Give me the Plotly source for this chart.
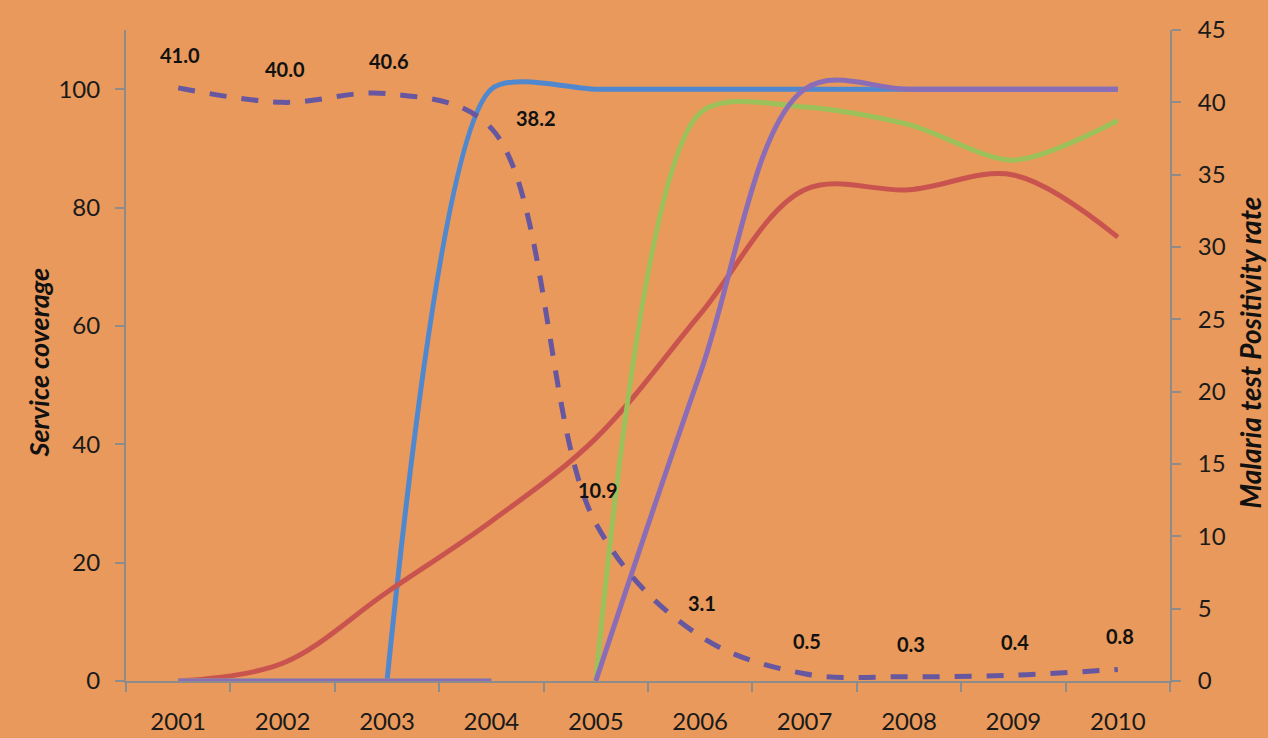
import plotly.graph_objects as go

# Years on the category axis
years = ["2001", "2002", "2003", "2004", "2005", "2006", "2007", "2008", "2009", "2010"]

# Service coverage series (left axis, %)
blue_cov = [None, None, 0, 100, 100, 100, 100, 100, 100, 100]
red_cov = [0, 3, 15, 27, 41, 62, 83, 83, 85.5, 75]
green_cov = [0, 0, 0, 0, 0, 96, 97, 94, 88, 94.7]
purple_cov = [0, 0, 0, 0, 0, 52, 100, 100, 100, 100]

# Malaria test positivity rate (right axis, %)
positivity = [41.0, 40.0, 40.6, 38.2, 10.9, 3.1, 0.5, 0.3, 0.4, 0.8]

BG = "#E8995B"
AXIS = "#8C8C8C"
FONT = "Lato"

fig = go.Figure()

def add_line(xs, ys, color, smoothing=1.0, axis="y", dash="solid"):
    fig.add_trace(go.Scatter(
        x=xs, y=ys, mode="lines", yaxis=axis,
        line=dict(color=color, width=5, shape="spline", smoothing=smoothing, dash=dash),
        showlegend=False, hoverinfo="skip"))

# Green and purple sit at zero until 2004, then climb from 2005 on
START = years.index("2005")
FLAT_END = years.index("2004") + 1

add_line(years, blue_cov, "#5088CF", smoothing=0.7)
add_line(years, red_cov, "#C9534E")
add_line(years[:FLAT_END], green_cov[:FLAT_END], "#9DC15A")
add_line(years[START:], green_cov[START:], "#9DC15A", smoothing=0.8)
add_line(years[:FLAT_END], purple_cov[:FLAT_END], "#8A6DB6")
add_line(years[START:], purple_cov[START:], "#8A6DB6")

add_line(years, positivity, "#6657A0", axis="y2", dash="17px,15px")

# Value labels above the positivity points (x given as category index)
annotations = []
for i, (yr, v) in enumerate(zip(years, positivity)):
    shift_x, shift_y = (45, 10) if yr == "2004" else (2, 33)
    annotations.append(dict(
        x=i, y=v, xref="x", yref="y2", text=f"<b>{v:.1f}</b>", showarrow=False,
        xshift=shift_x, yshift=shift_y,
        font=dict(family=FONT, size=20, color="#111111")))

# Axis titles
annotations.append(dict(
    x=0, y=0.5, xref="paper", yref="paper", text="<b><i>Service coverage</i></b>",
    textangle=-90, showarrow=False, xanchor="center", yanchor="middle", xshift=-88, yshift=-7,
    font=dict(family=FONT, size=27, color="#111111")))
annotations.append(dict(
    x=1, y=0.5, xref="paper", yref="paper", text="<b><i>Malaria test Positivity rate</i></b>",
    textangle=-90, showarrow=False, xanchor="center", yanchor="middle", xshift=79, yshift=3,
    font=dict(family=FONT, size=28, color="#111111")))

axis_style = dict(
    ticks="outside", ticklen=9, tickcolor=AXIS, tickwidth=2,
    showline=True, linecolor=AXIS, linewidth=2, showgrid=False, zeroline=False,
    tickfont=dict(size=24, family=FONT), automargin=False)

fig.update_layout(
    width=1268, height=738,
    margin=dict(l=126, r=98, t=30, b=57),
    paper_bgcolor=BG, plot_bgcolor=BG,
    font=dict(family=FONT, color="#1a1a1a"),
    annotations=annotations,
    xaxis=dict(type="category", tickson="boundaries", range=[-0.5, 9.5],
               ticklabelstandoff=18, **axis_style),
    yaxis=dict(range=[0, 110], tickvals=[0, 20, 40, 60, 80, 100],
               ticklabelstandoff=10, **axis_style),
    yaxis2=dict(range=[0, 45], dtick=5, overlaying="y", side="right",
                ticklabelstandoff=12, **axis_style),
)

fig.write_html("out.html")
